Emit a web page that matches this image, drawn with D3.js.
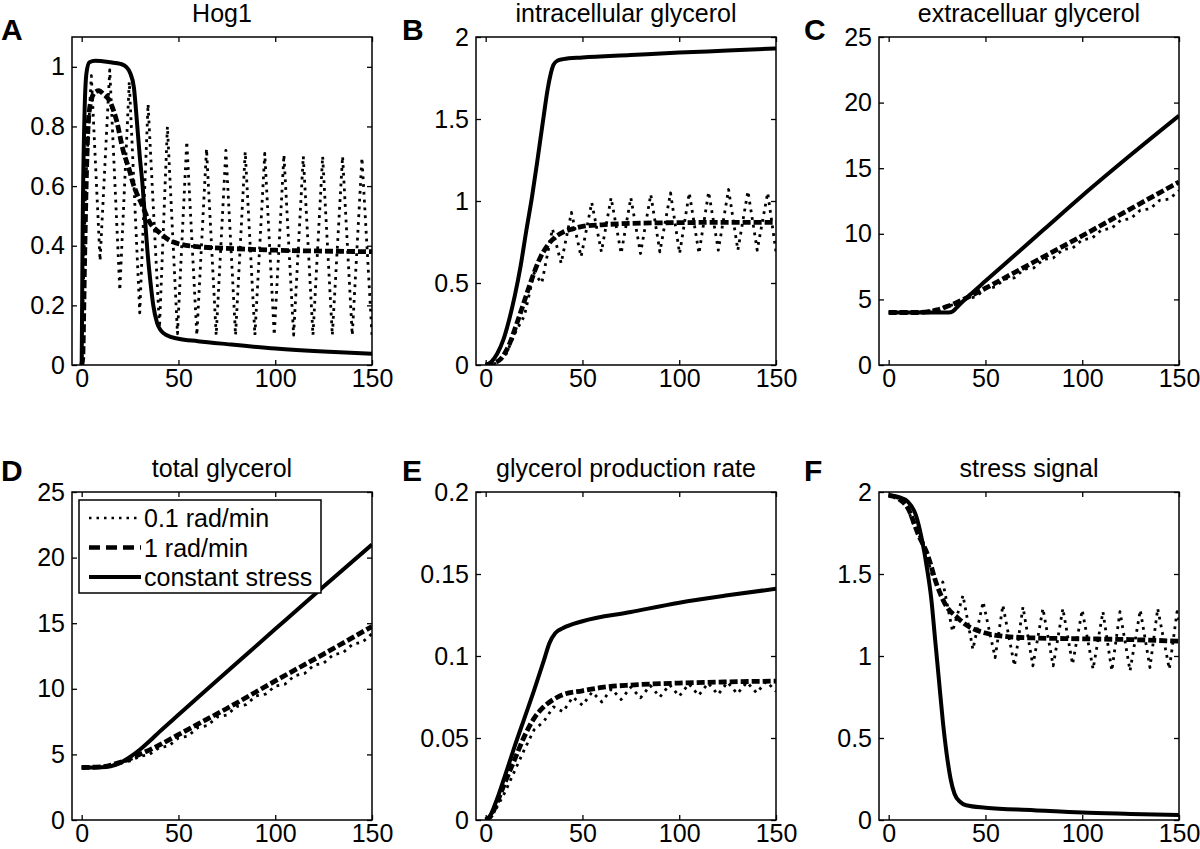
<!DOCTYPE html>
<meta charset="utf-8">
<body style="margin:0;background:#fff">

<script src="https://cdn.jsdelivr.net/npm/d3@7/dist/d3.min.js"></script>
<script>
// panel labels and titles
var panelLetters = ["A", "B", "C", "D", "E", "F"];
var panelTitles = ["Hog1", "intracellular glycerol", "extracelluar glycerol",
                   "total glycerol", "glycerol production rate", "stress signal"];
var xTicks = [0, 50, 100, 150];
var legendLabels = ["0.1 rad/min", "1 rad/min", "constant stress"];

// y ticks per panel
var yTicksA = [0, 0.2, 0.4, 0.6, 0.8, 1];
var yTicksB = [0, 0.5, 1, 1.5, 2];
var yTicksC = [0, 5, 10, 15, 20, 25];
var yTicksD = [0, 5, 10, 15, 20, 25];
var yTicksE = [0, 0.05, 0.1, 0.15, 0.2];
var yTicksF = [0, 0.5, 1, 1.5, 2];

// A: Hog1  [time, value]
var hogSlow = [[0,0],[2,0.6],[5,0.97],[9.5,0.35],[14.5,0.99],[19.7,0.25],[24.6,0.95],[30,0.175],[34.3,0.875],[40.2,0.125],
  [44.3,0.8],[49.5,0.105],[54.3,0.75],[59.5,0.1],[64.5,0.725],[69.5,0.1],[74.5,0.72],[79.5,0.1],[84.5,0.715],[89.5,0.1],
  [94.6,0.71],[99.5,0.1],[104.5,0.705],[109.5,0.1],[114.5,0.7],[119.5,0.1],[124.5,0.7],[129.5,0.1],[134.8,0.7],[139.8,0.1],
  [144.8,0.695],[150,0.1]];
var hogFast = [[0,0],[0.5,0.02],[1.5,0.35],[2.5,0.65],[3.5,0.82],[5,0.89],[7,0.915],[9,0.92],[11,0.91],[14.5,0.885],
  [18,0.82],[21.4,0.72],[24.8,0.65],[26.5,0.61],[28.5,0.575],[31,0.54],[35,0.48],[40.4,0.443],[47,0.413],[59.5,0.397],
  [80,0.39],[100,0.385],[125,0.382],[150,0.38]];
var hogConst = [[0,0],[0.5,0.45],[1.5,0.85],[2.5,0.98],[4,1.015],[7,1.02],[15,1.015],[20,1.01],[23,1.0],[25,0.98],
  [27,0.93],[28.5,0.82],[30,0.7],[31.5,0.6],[32.6,0.5],[34,0.38],[35.5,0.28],[37,0.2],[39,0.14],[41,0.115],[44,0.1],
  [50,0.088],[60,0.08],[75,0.07],[100,0.055],[125,0.045],[150,0.038]];

// B: intracellular glycerol
var icSlow = [[0,0],[5,0.01],[10,0.05],[15,0.19],[20,0.3],[25,0.56],[29,0.5],[34.5,0.83],[39,0.62],[44.3,0.93],
  [49.3,0.66],[54.8,0.99],[59.8,0.69],[64.8,1.02],[70,0.68],[75,1.02],[80,0.68],[85.3,1.04],[90,0.69],[95.5,1.05],
  [100.2,0.68],[105.2,1.05],[110.2,0.68],[115.2,1.055],[120.2,0.7],[125.5,1.07],[130.3,0.7],[135.5,1.06],[140.3,0.7],
  [145.7,1.05],[150,0.69]];
var icFast = [[0,0],[4,0.01],[8,0.04],[12,0.12],[16,0.25],[20,0.39],[24,0.53],[28,0.65],[32,0.73],[36,0.78],[40,0.81],
  [45,0.83],[50,0.845],[60,0.855],[80,0.865],[100,0.868],[125,0.87],[150,0.87]];
var icConst = [[0,0],[3,0.02],[6,0.07],[9,0.15],[12,0.27],[15,0.42],[18,0.6],[21,0.82],[24,1.03],[27,1.27],[30,1.52],
  [32,1.68],[33.5,1.77],[35,1.83],[37,1.855],[40,1.865],[50,1.875],[75,1.89],[100,1.905],[125,1.917],[150,1.93]];

// C: extracellular glycerol
var ecSlow = [[0,4],[5,4],[10,4],[15,4.02],[20,4.12],[25,4.2],[30,4.5],[35,4.62],[40,5.05],[45,5.2],[50,5.8],[55,5.95],
  [60,6.55],[65,6.65],[70,7.3],[75,7.4],[80,8.05],[85,8.15],[90,8.8],[95,8.9],[100,9.55],[105,9.65],[110,10.3],[115,10.4],
  [120,11.05],[125,11.15],[130,11.8],[135,11.9],[140,12.55],[145,12.65],[150,13.3]];
var ecFast = [[0,4],[15,4],[20,4.05],[25,4.2],[30,4.45],[35,4.75],[40,5.1],[50,5.85],[60,6.65],[75,7.85],[100,9.85],
  [125,11.9],[150,13.95]];
var ecConst = [[0,4],[25,4],[31,4.0],[33,4.08],[35,4.35],[38,4.8],[42,5.35],[50,6.4],[60,7.7],[80,10.3],[100,12.9],
  [125,16.0],[150,19.0]];

// D: total glycerol
var totSlow = [[0,4],[5,4.01],[10,4.05],[15,4.15],[20,4.33],[25,4.5],[30,4.85],[35,5.0],[40,5.5],[45,5.65],[50,6.25],
  [55,6.4],[60,7.05],[65,7.2],[70,7.85],[75,8.0],[80,8.65],[85,8.8],[90,9.45],[95,9.6],[100,10.2],[105,10.35],[110,11.0],
  [115,11.15],[120,11.8],[125,11.95],[130,12.6],[135,12.75],[140,13.4],[145,13.55],[150,14.2]];
var totFast = [[0,4],[10,4.05],[20,4.4],[30,5.0],[40,5.7],[50,6.5],[60,7.3],[75,8.5],[100,10.6],[125,12.65],[150,14.75]];
var totConst = [[0,4],[10,4.02],[15,4.1],[20,4.35],[25,4.8],[30,5.35],[35,6.0],[40,6.7],[50,8.02],[60,9.33],[80,11.94],
  [100,14.55],[125,17.8],[150,21.0]];

// E: glycerol production rate
var prodSlow = [[0,0],[5,0.006],[10,0.017],[15,0.03],[20,0.043],[25,0.055],[30,0.06],[35,0.069],[40,0.066],[45,0.075],
  [50,0.07],[55,0.078],[60,0.072],[65,0.08],[70,0.0735],[75,0.081],[80,0.0745],[85,0.082],[90,0.075],[95,0.0825],
  [100,0.0755],[105,0.083],[110,0.076],[115,0.0835],[120,0.0765],[125,0.084],[130,0.077],[135,0.084],[140,0.0775],
  [145,0.0845],[150,0.0785]];
var prodFast = [[0,0],[3,0.003],[6,0.011],[10,0.023],[15,0.037],[20,0.051],[25,0.062],[30,0.069],[35,0.0735],[40,0.0765],
  [50,0.0788],[60,0.0808],[75,0.0823],[100,0.0835],[125,0.0842],[150,0.0847]];
var prodConst = [[0,0],[2,0.002],[5,0.01],[10,0.027],[15,0.045],[20,0.062],[25,0.079],[30,0.097],[33,0.108],[36,0.114],
  [40,0.117],[50,0.1212],[75,0.1268],[100,0.1325],[125,0.137],[150,0.141]];

// F: stress signal
var stressSlow = [[0,1.98],[8,1.95],[13,1.8],[18,1.68],[23,1.47],[28,1.45],[33,1.15],[38.4,1.37],[43.5,1.04],[48.8,1.33],
  [55,0.99],[59,1.31],[65,0.94],[69.4,1.3],[74.5,0.94],[79.7,1.29],[85,0.94],[90,1.29],[95,0.95],[100,1.28],[105.6,0.92],
  [110.7,1.27],[115.3,0.91],[119.5,1.27],[124.7,0.91],[130,1.28],[135,0.93],[139,1.29],[145,0.92],[149,1.27],[150,1.22]];
var stressFast = [[0,1.98],[5,1.96],[10,1.9],[15,1.75],[20,1.62],[25,1.43],[30,1.3],[35,1.24],[40,1.19],[50,1.14],
  [60,1.12],[75,1.11],[100,1.105],[125,1.1],[150,1.09]];
var stressConst = [[0,1.98],[5,1.97],[10,1.94],[14,1.86],[17,1.72],[20,1.52],[22,1.35],[24,1.1],[26,0.85],[28,0.6],
  [30,0.4],[32,0.25],[34,0.16],[37,0.11],[40,0.09],[50,0.075],[75,0.06],[100,0.045],[125,0.037],[150,0.03]];

// layout
var colLeft = [72, 476, 879], rowTop = [37, 492];
var plotW = 300, plotH = 328;
var fontFam = "'Liberation Sans', Arial, Helvetica, sans-serif";

var panels = [
  {yMax: 1.1, ticks: yTicksA, slow: hogSlow, fast: hogFast, cons: hogConst},
  {yMax: 2, ticks: yTicksB, slow: icSlow, fast: icFast, cons: icConst},
  {yMax: 25, ticks: yTicksC, slow: ecSlow, fast: ecFast, cons: ecConst},
  {yMax: 25, ticks: yTicksD, slow: totSlow, fast: totFast, cons: totConst},
  {yMax: 0.2, ticks: yTicksE, slow: prodSlow, fast: prodFast, cons: prodConst},
  {yMax: 2, ticks: yTicksF, slow: stressSlow, fast: stressFast, cons: stressConst}
];

var styles = {
  slow: {w: 2.8, dash: "2.8,5"},
  fast: {w: 4.8, dash: "8,3"},
  cons: {w: 4, dash: null}
};

var svg = d3.select("body").append("svg")
    .attr("width", 1200)
    .attr("height", 849)
    .style("font-family", fontFam);

var x = d3.scaleLinear().domain([-5, 150]).range([0, plotW]);

panels.forEach(function(p, i) {
  var col = i % 3, row = Math.floor(i / 3);
  var g = svg.append("g")
      .attr("transform", "translate(" + colLeft[col] + "," + rowTop[row] + ")");

  var y = d3.scaleLinear().domain([0, p.yMax]).range([plotH, 0]);

  g.append("clipPath").attr("id", "clip" + i)
    .append("rect").attr("width", plotW).attr("height", plotH);

  // axes, ticks pointing inward on all four sides
  g.append("g")
      .call(d3.axisLeft(y).tickValues(p.ticks).tickSize(-5).tickPadding(7).tickFormat(function(d) { return String(d); }));
  g.append("g").attr("transform", "translate(" + plotW + ",0)")
      .call(d3.axisRight(y).tickValues(p.ticks).tickSize(-5).tickFormat(""));
  g.append("g").attr("transform", "translate(0," + plotH + ")")
      .call(d3.axisBottom(x).tickValues(xTicks).tickSize(-5).tickPadding(4).tickFormat(function(d) { return String(d); }));
  g.append("g")
      .call(d3.axisTop(x).tickValues(xTicks).tickSize(-5).tickFormat(""));
  g.selectAll(".domain").remove();
  g.selectAll(".tick line").attr("stroke", "#000").attr("stroke-width", 1.3);
  g.selectAll(".tick text")
      .attr("font-size", 25)
      .attr("font-family", fontFam)
      .attr("fill", "#000");

  // curves
  var lines = g.append("g").attr("clip-path", "url(#clip" + i + ")");
  ["slow", "fast", "cons"].forEach(function(k) {
    var line = d3.line()
        .x(function(d) { return x(d[0]); })
        .y(function(d) { return y(d[1]); })
        .curve(k == "slow" ? d3.curveLinear : d3.curveMonotoneX);
    lines.append("path")
        .datum(p[k])
        .attr("d", line)
        .attr("fill", "none")
        .attr("stroke", "#000")
        .attr("stroke-width", styles[k].w)
        .attr("stroke-dasharray", styles[k].dash)
        .attr("stroke-linejoin", "round");
  });

  // box
  g.append("rect")
      .attr("width", plotW).attr("height", plotH)
      .attr("fill", "none").attr("stroke", "#000").attr("stroke-width", 1.5);

  // title and panel letter
  g.append("text")
      .attr("x", plotW / 2).attr("y", -15)
      .attr("text-anchor", "middle")
      .attr("font-size", 25)
      .text(panelTitles[i]);
  svg.append("text")
      .attr("x", [1, 402, 804][col]).attr("y", [40, 481][row])
      .attr("font-size", 30)
      .attr("font-weight", "bold")
      .text(panelLetters[i]);

  // legend lives in panel D
  if (i == 3) {
    var lg = g.append("g").attr("transform", "translate(7,8)");
    lg.append("rect").attr("width", 242).attr("height", 93)
        .attr("fill", "#fff").attr("stroke", "#000").attr("stroke-width", 1.5);
    var legDash = ["2.5,5", "11,6", null], legW = [2.5, 4.5, 4];
    legendLabels.forEach(function(lab, j) {
      var ly = 18 + j * 29.5;
      lg.append("line")
          .attr("x1", 10).attr("x2", 62).attr("y1", ly).attr("y2", ly)
          .attr("stroke", "#000").attr("stroke-width", legW[j])
          .attr("stroke-dasharray", legDash[j]);
      lg.append("text")
          .attr("x", 65).attr("y", ly + 9)
          .attr("font-size", 25)
          .text(lab);
    });
  }
});
</script>
</body>
